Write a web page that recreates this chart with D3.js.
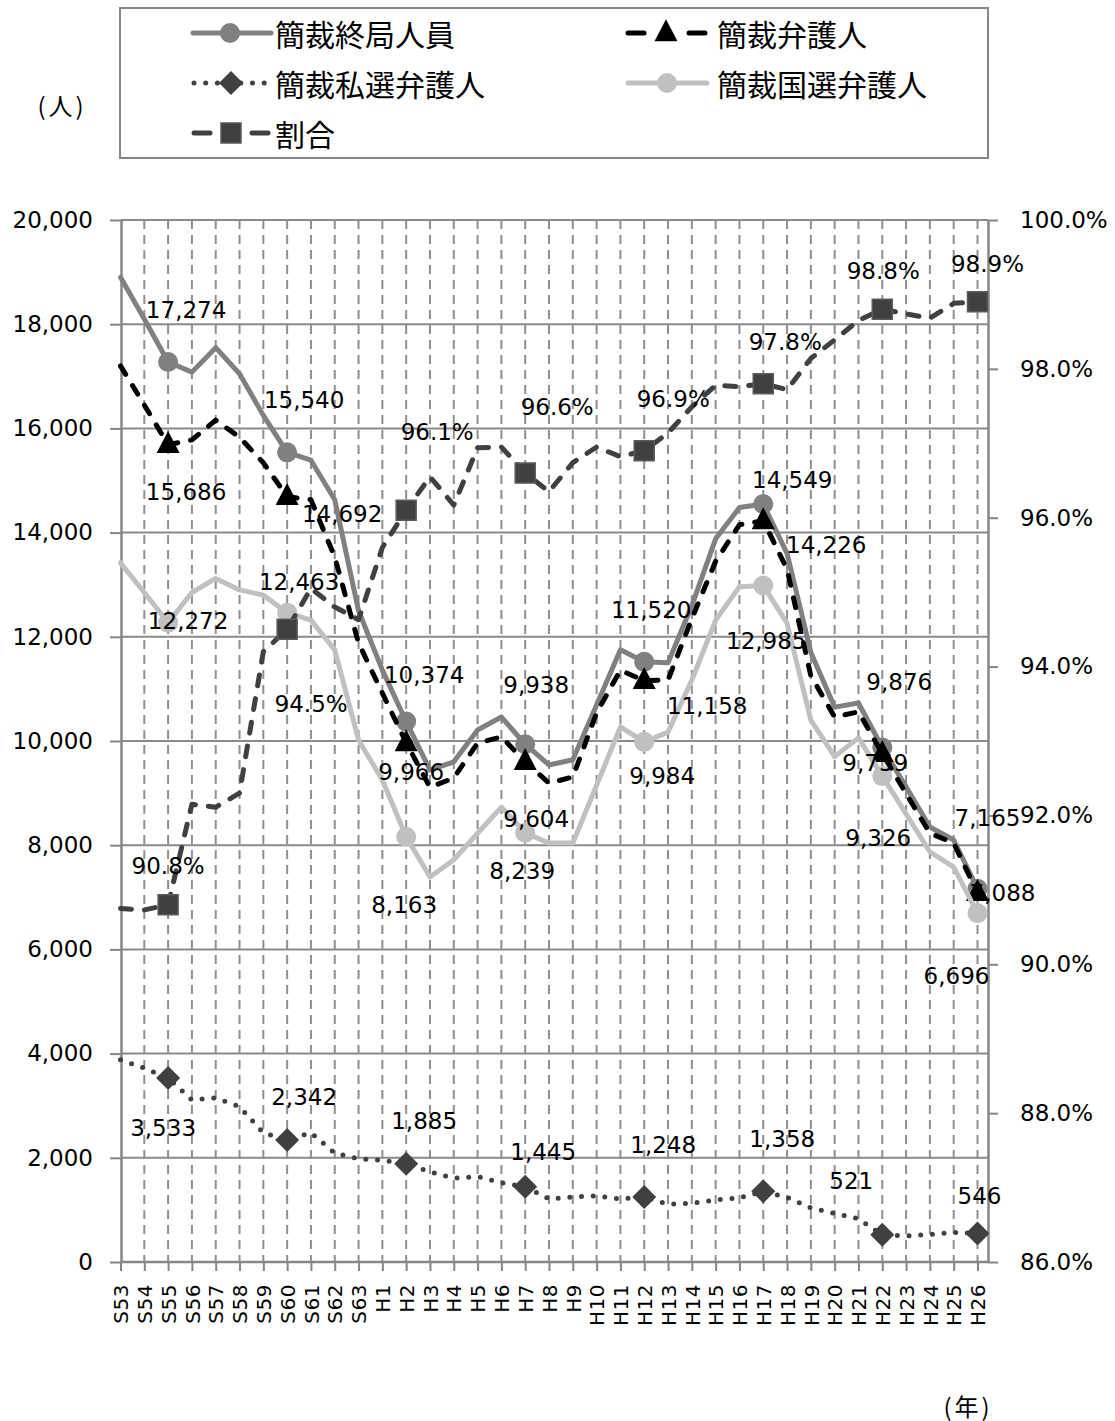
<!DOCTYPE html>
<html>
<head>
<meta charset="utf-8">
<script src="https://cdn.jsdelivr.net/npm/d3@7"></script>
<style>
  html, body { margin: 0; padding: 0; background: #fff; }
  svg { display: block; }
</style>
</head>
<body>
<svg id="chart" width="1115" height="1421"></svg>
<script>
// ---------------- data ----------------
const categories = ["S53","S54","S55","S56","S57","S58","S59","S60","S61","S62","S63",
  "H1","H2","H3","H4","H5","H6","H7","H8","H9","H10","H11","H12","H13","H14","H15",
  "H16","H17","H18","H19","H20","H21","H22","H23","H24","H25","H26"];

const seriesNames = ["簡裁終局人員","簡裁弁護人","簡裁私選弁護人","簡裁国選弁護人","割合"];

const totalCases = [18900,18100,17274,17080,17550,17050,16250,15540,15390,14630,12500,
  11360,10374,9443,9600,10210,10460,9938,9540,9640,10690,11750,11520,11500,12600,13880,
  14480,14549,13600,11700,10650,10730,9876,9120,8350,8100,7165];

const withLawyer = [17200,16450,15686,15780,16160,15830,15340,14692,14630,13530,11880,
  10920,9966,9110,9290,9960,10080,9604,9190,9310,10540,11360,11158,11170,12350,13450,
  14150,14226,13300,11250,10460,10560,9759,8990,8230,8040,7088];

const privateLawyer = [3880,3720,3533,3110,3150,2980,2480,2342,2480,2090,1980,
  1950,1885,1730,1610,1640,1520,1445,1210,1250,1270,1210,1248,1110,1130,1190,
  1230,1358,1240,1040,930,830,521,500,530,570,546];

const courtLawyer = [13420,12850,12272,12850,13120,12900,12800,12463,12320,11750,10020,
  9250,8163,7390,7720,8230,8730,8239,8040,8040,9150,10270,9984,10170,11170,12320,
  12960,12985,12260,10400,9700,10060,9326,8600,7870,7580,6696];

const ratioPct = [90.75,90.73,90.8,92.15,92.11,92.3,94.2,94.5,95.05,94.8,94.63,
  95.6,96.1,96.55,96.17,96.94,96.95,96.6,96.35,96.74,96.95,96.82,96.9,97.14,97.49,97.78,
  97.76,97.8,97.72,98.14,98.39,98.65,98.8,98.74,98.68,98.88,98.9];

const markerCategories = ["S55","S60","H2","H7","H12","H17","H22","H26"];
const leftTicks = [0,2000,4000,6000,8000,10000,12000,14000,16000,18000,20000];
const rightTicks = [86,88,90,92,94,96,98,100];
const leftUnit = "(人)";
const bottomUnit = "(年)";

// ---------------- layout / style ----------------
const L = 121, R = 988, T = 220, B = 1262;
const svg = d3.select("#chart");
const latin = "'DejaVu Sans', sans-serif";
const cjk = "'Noto Sans CJK JP', sans-serif";

const x = d3.scalePoint().domain(categories).range([120.5, 977.5]);
const yL = d3.scaleLinear().domain([0, 20000]).range([B, T]);
const yR = d3.scaleLinear().domain([86, 100]).range([B, T]);

// label offsets (presentation only), one per marker
const labelOffsets = {
  total:   [[18,-52],[17,-52],[18,-47],[11,-59],[7,-52],[29,-24],[17,-65],[10,-71]],
  lawyer:  [[18,47],[55,17],[5,29],[11,57],[63,25],[63,24],[-7,9],[25,0]],
  priv:    [[-5,50],[17,-43],[18,-43],[18,-35],[19,-52],[19,-52],[-31,-54],[2,-38]],
  court:   [[20,-2],[12,-31],[-2,68],[-3,38],[18,34],[3,56],[-4,62],[-21,63]],
  ratio:   [[0,-39],[24,75],[31,-78],[32,-66],[29,-52],[22,-42],[1,-38],[10,-38]]
};

const gridColor = "#8a8a8a";

// horizontal gridlines
svg.append("g").selectAll("line").data(leftTicks.filter(d => d > 0)).join("line")
  .attr("x1", L).attr("x2", R)
  .attr("y1", d => yL(d)).attr("y2", d => yL(d))
  .attr("stroke", gridColor).attr("stroke-width", 2);

// vertical dashed gridlines
svg.append("g").selectAll("line").data(categories.slice(1)).join("line")
  .attr("x1", d => x(d)).attr("x2", d => x(d))
  .attr("y1", T).attr("y2", B)
  .attr("stroke", "#8f8f8f").attr("stroke-width", 2)
  .attr("stroke-dasharray", "9,6");

// axes
const axisLeft = d3.axisLeft(yL).tickValues(leftTicks).tickSize(11).tickSizeOuter(0)
  .tickPadding(17).tickFormat(d3.format(","));
const gL = svg.append("g").attr("transform", `translate(${L},0)`).call(axisLeft);

const axisRight = d3.axisRight(yR).tickValues(rightTicks).tickSize(10).tickSizeOuter(0)
  .tickPadding(22).tickFormat(d => d3.format(".1f")(d) + "%");
const gR = svg.append("g").attr("transform", `translate(${R},0)`).call(axisRight);

const axisBottom = d3.axisBottom(x).tickSize(9).tickSizeOuter(0);
const gB = svg.append("g").attr("transform", `translate(0,${B})`).call(axisBottom);
gB.select(".domain").attr("d", `M${L},0H${R}`);
gB.selectAll("text")
  .attr("transform", "rotate(-90)")
  .attr("text-anchor", "end")
  .attr("x", -22).attr("y", 0).attr("dy", "0.36em")
  .style("letter-spacing", "0.5px")
  .attr("font-size", 20);

[gL, gR, gB].forEach(g => {
  g.selectAll(".domain").attr("stroke", "#868686").attr("stroke-width", 2.5);
  g.selectAll(".tick line").attr("stroke", "#868686").attr("stroke-width", 2);
  g.selectAll("text").attr("fill", "#000").attr("font-family", latin);
});
gL.selectAll("text").attr("font-size", 23);
gR.selectAll("text").attr("font-size", 23);

// ---------------- series ----------------
const markerIdx = markerCategories.map(c => categories.indexOf(c));

function diamondPath(s) { return `M0,${-s}L${s},0L0,${s}L${-s},0Z`; }
function squarePath(s) { return `M${-s},${-s}H${s}V${s}H${-s}Z`; }
function trianglePath(w, h) { return `M0,${-h*0.62}L${w/2},${h*0.38}L${-w/2},${h*0.38}Z`; }

const seriesDefs = [
  { key: "total", values: totalCases, y: yL, color: "#808080", width: 5, dash: null, cap: "round",
    marker: "circle", mfill: "#808080", fmt: d3.format(",") },
  { key: "lawyer", values: withLawyer, y: yL, color: "#000000", width: 5, dash: "10,13", cap: "round",
    marker: "triangle", mfill: "#000000", fmt: d3.format(",") },
  { key: "priv", values: privateLawyer, y: yL, color: "#404040", width: 5, dash: "0,11.7", cap: "round",
    marker: "diamond", mfill: "#404040", fmt: d3.format(",") },
  { key: "court", values: courtLawyer, y: yL, color: "#c0c0c0", width: 5, dash: null, cap: "round",
    marker: "circle", mfill: "#c0c0c0", fmt: d3.format(",") },
  { key: "ratio", values: ratioPct, y: yR, color: "#404040", width: 5, dash: "11,13", cap: "round",
    marker: "square", mfill: "#404040", fmt: d => d3.format(".1f")(d) + "%" }
];

function drawMarker(g, type, fill, cx, cy) {
  if (type === "circle") {
    g.append("circle").attr("cx", cx).attr("cy", cy).attr("r", 10).attr("fill", fill);
  } else if (type === "triangle") {
    g.append("path").attr("d", trianglePath(23, 22)).attr("transform", `translate(${cx},${cy})`).attr("fill", fill);
  } else if (type === "diamond") {
    g.append("path").attr("d", diamondPath(12)).attr("transform", `translate(${cx},${cy})`).attr("fill", fill);
  } else if (type === "square") {
    g.append("path").attr("d", squarePath(10)).attr("transform", `translate(${cx},${cy})`)
      .attr("fill", fill).attr("stroke", "#5a5a5a").attr("stroke-width", 1.5);
  }
}

const seriesLayer = svg.append("g");
seriesDefs.forEach(s => {
  const line = d3.line().x((d, i) => x(categories[i])).y(d => s.y(d));
  const g = seriesLayer.append("g");
  g.append("path").attr("d", line(s.values))
    .attr("fill", "none").attr("stroke", s.color).attr("stroke-width", s.width)
    .attr("stroke-linejoin", "round").attr("stroke-linecap", s.cap)
    .attr("stroke-dasharray", s.dash);
  markerIdx.forEach(i => drawMarker(g, s.marker, s.mfill, x(categories[i]), s.y(s.values[i])));
});

// data labels
const labelLayer = svg.append("g");
seriesDefs.forEach(s => {
  markerIdx.forEach((i, k) => {
    const off = labelOffsets[s.key][k];
    labelLayer.append("text")
      .attr("x", x(categories[i]) + off[0])
      .attr("y", s.y(s.values[i]) + off[1])
      .attr("text-anchor", "middle").attr("dominant-baseline", "central")
      .attr("font-family", latin).attr("font-size", 23).attr("fill", "#000")
      .text(s.fmt(s.values[i]));
  });
});

// ---------------- legend ----------------
const lg = svg.append("g");
lg.append("rect").attr("x", 120).attr("y", 8).attr("width", 868).attr("height", 150)
  .attr("fill", "#fff").attr("stroke", "#868686").attr("stroke-width", 2);

const legendItems = [
  { s: seriesDefs[0], name: seriesNames[0], x0: 193, x1: 271, mx: 230, tx: 275, y: 33 },
  { s: seriesDefs[1], name: seriesNames[1], x0: 628, x1: 705, mx: 666, tx: 717, y: 33 },
  { s: seriesDefs[2], name: seriesNames[2], x0: 194, x1: 268, mx: 231, tx: 275, y: 83 },
  { s: seriesDefs[3], name: seriesNames[3], x0: 628, x1: 707, mx: 667, tx: 717, y: 83 },
  { s: seriesDefs[4], name: seriesNames[4], x0: 194, x1: 268, mx: 231, tx: 275, y: 133 }
];
legendItems.forEach(it => {
  const s = it.s;
  if (s.dash && s.key !== "priv") {
    // short dashed pieces on each side of the marker
    [[it.x0, it.x0 + 16], [it.x1 - 16, it.x1]].forEach(seg => {
      lg.append("line").attr("x1", seg[0]).attr("x2", seg[1]).attr("y1", it.y).attr("y2", it.y)
        .attr("stroke", s.color).attr("stroke-width", s.width).attr("stroke-linecap", "round");
    });
  } else {
    lg.append("line").attr("x1", it.x0).attr("x2", it.x1).attr("y1", it.y).attr("y2", it.y)
      .attr("stroke", s.color).attr("stroke-width", s.width)
      .attr("stroke-linecap", "round").attr("stroke-dasharray", s.dash);
  }
  drawMarker(lg, s.marker, s.mfill, it.mx, it.y);
  lg.append("text").attr("x", it.tx).attr("y", it.y).attr("dominant-baseline", "central")
    .attr("font-family", cjk).attr("font-size", 30).attr("fill", "#000").text(it.name);
});

// unit labels
svg.append("text").attr("x", 62).attr("y", 104).attr("text-anchor", "middle")
  .attr("dominant-baseline", "central").attr("font-family", cjk).attr("font-size", 24)
  .style("letter-spacing", "3px").text(leftUnit);
svg.append("text").attr("x", 968).attr("y", 1405).attr("text-anchor", "middle")
  .attr("dominant-baseline", "central").attr("font-family", cjk).attr("font-size", 24)
  .style("letter-spacing", "3px").text(bottomUnit);
</script>
</body>
</html>
